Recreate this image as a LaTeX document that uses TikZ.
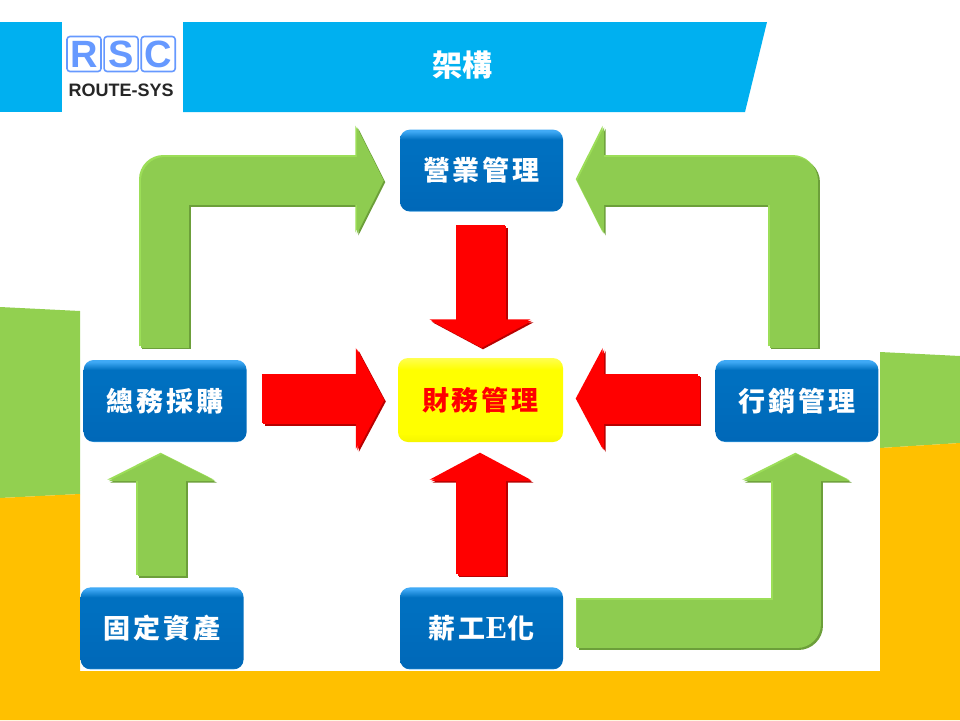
\documentclass[tikz,border=0pt]{standalone}
\usepackage{fontspec}
\setmainfont{Liberation Serif}
\newfontfamily\cjk[LetterSpace=11]{Noto Sans CJK TC}
\newfontfamily\titlefont{Noto Sans CJK TC}
\newfontfamily\logofont{Liberation Sans}
\usetikzlibrary{arrows.meta,positioning}
\definecolor{bannerblue}{HTML}{00B0F0}
\definecolor{leafgreen}{HTML}{92D050}
\definecolor{amber}{HTML}{FFC000}
\definecolor{logoblue}{HTML}{6699FF}
\definecolor{arrowgreen}{HTML}{8ECC50}
\definecolor{arrowlight}{HTML}{9CDE58}
\definecolor{arrowdark}{HTML}{6C9F3A}
\definecolor{boxbody}{HTML}{0070C0}
\definecolor{boxfoot}{HTML}{0068B8}
\definecolor{boxedge}{HTML}{4FB0F0}
\definecolor{boxtop}{HTML}{3FA9F5}
\definecolor{yellowtop}{HTML}{FFFF50}
\definecolor{yellowfoot}{HTML}{F5F500}
\pgfdeclareverticalshading{boxblue}{100bp}{color(0bp)=(boxedge);color(25bp)=(boxedge);color(26bp)=(boxfoot);color(62bp)=(boxbody);color(69bp)=(boxbody);color(74bp)=(boxtop);color(75bp)=(boxtop);color(100bp)=(boxtop)}
\pgfdeclareverticalshading{boxyellow}{100bp}{color(0bp)=(yellowfoot);color(25bp)=(yellowfoot);color(30bp)=(yellow);color(68bp)=(yellow);color(75bp)=(yellowtop);color(100bp)=(yellowtop)}

\begin{document}
\begin{tikzpicture}[
  x=1pt, y=-1pt,
  font=\cjk\bfseries\fontsize{27pt}{30pt}\selectfont,
  stage/.style={minimum width=163pt, minimum height=82pt, inner sep=0pt, rounded corners=10pt, shade, text=white},
  bluebox/.style={stage, shading=boxblue},
  yellowbox/.style={stage, shading=boxyellow, minimum width=165pt, minimum height=84pt, text=red},
  logobox/.style={draw=logoblue, line width=1.6pt, rounded corners=3pt, minimum width=34pt, minimum height=35pt, inner sep=0pt, text=logoblue, font=\logofont\bfseries\fontsize{38pt}{38pt}\selectfont},
  block/.style n args={5}{line width=48pt, draw=#3, line join=round, -{Triangle[length=#1,width=#2]},
    preaction={draw=#5, line width=49pt, line join=round, transform canvas={shift={(1.5pt,-1.5pt)}}},
    preaction={draw=#4, line width=49pt, line join=round, transform canvas={shift={(-1.5pt,1.5pt)}}}},
  redarrow/.style={block={27pt}{100pt}{red}{red}{red!72!black}},
  greenarrow/.style={block={27pt}{106pt}{arrowgreen}{arrowlight}{arrowdark}}
]

\useasboundingbox (0,0) rectangle (960,720);
\fill[white] (0,0) rectangle (960,720);

% slide background
\fill[leafgreen] (0,307) -- (80,311) -- (80,494) -- (0,498) -- cycle;
\fill[leafgreen] (880,352) -- (960,356) -- (960,443) -- (880,448) -- cycle;
\fill[amber] (0,498) -- (80,494) -- (80,671) -- (880,671) -- (880,448) -- (960,443) -- (960,720) -- (0,720) -- cycle;

% banner
\fill[bannerblue] (0,22) rectangle (62,112);
\fill[bannerblue] (183,22) -- (767,22) -- (745,112) -- (183,112) -- cycle;
\node[text=white, font=\titlefont\bfseries\fontsize{30pt}{32pt}\selectfont] (title) at (462,65) {架構};

% logo
\node[logobox] (logoR) at (84,54) {R};
\node[logobox, right=1.5pt of logoR] (logoS) {S};
\node[logobox, right=1.5pt of logoS] (logoC) {C};
\node[below=11pt of logoS, inner sep=0pt, text=black!85, font=\logofont\bfseries\fontsize{18pt}{18pt}\selectfont] (logotext) {ROUTE-SYS};

% boxes
\node[yellowbox] (finance) at (480.5,400) {財務管理};
\node[bluebox, above=146pt of finance, xshift=1pt] (sales) {營業管理};
\node[bluebox, left=151pt of finance, yshift=-1pt] (purchase) {總務採購};
\node[bluebox, right=152pt of finance, yshift=-1pt] (marketing) {行銷管理};
\node[bluebox, below=145pt of purchase, xshift=-3pt] (assets) {固定資產};
\node[bluebox, below=145pt of finance, xshift=1pt] (payroll) {{\cjk 薪工}{\rmfamily\fontsize{32pt}{32pt}\selectfont E}{\cjk 化}};

% red arrows
\draw[redarrow, shorten <=14.5pt, shorten >=10pt] (sales.south) -- (sales.south |- finance.north);
\draw[redarrow, shorten <=16.5pt, shorten >=13.5pt] (finance -| purchase.east) -- (finance.west);
\draw[redarrow, shorten <=15.5pt, shorten >=14pt] (finance -| marketing.west) -- (finance.east);
\draw[redarrow, shorten <=11.5pt, shorten >=12pt] (payroll.north) -- (payroll.north |- finance.south);

% green arrows
\draw[greenarrow, shorten <=12pt, shorten >=16pt] (purchase.north) |- ([yshift=-10pt]sales.west);
\draw[greenarrow, shorten <=12pt, shorten >=14pt] ([xshift=-3pt]marketing.north) |- ([yshift=-10pt]sales.east);
\draw[greenarrow, shorten <=11pt, shorten >=12pt] (assets.north) -- (assets.north |- purchase.south);
\draw[greenarrow, shorten <=14pt, shorten >=12pt] ([yshift=4.5pt]payroll.east) -| (marketing.south);

\end{tikzpicture}
\end{document}
